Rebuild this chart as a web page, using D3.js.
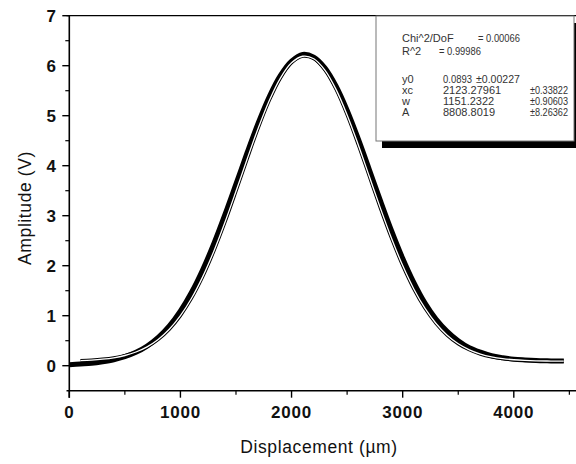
<!DOCTYPE html>
<html><head><meta charset="utf-8">
<script src="https://cdn.jsdelivr.net/npm/d3@7"></script>
<style>body{margin:0;background:#fff}svg{display:block}text{font-family:"Liberation Sans",Arial,sans-serif}</style>
</head><body>
<svg id="c" width="576" height="464"></svg>
<script>
// Measured data (Displacement in µm, Amplitude in V)
const dataX = [0,100,200,300,400,500,600,700,800,900,1000,1100,1200,1300,1400,1500,1600,1700,1800,1900,2000,2100,2200,2300,2400,2500,2600,2700,2800,2900,3000,3100,3200,3300,3400,3500,3600,3700,3800,3900,4000,4100,4200,4300,4400,4450];
const dataY = [0.02,0.035,0.05,0.08,0.12,0.18,0.267,0.392,0.565,0.796,1.096,1.469,1.919,2.44,3.02,3.636,4.26,4.856,5.384,5.806,6.091,6.225,6.169,5.956,5.593,5.109,4.54,3.924,3.3,2.7,2.15,1.667,1.258,0.935,0.69,0.5,0.36,0.27,0.2,0.16,0.13,0.115,0.104,0.098,0.094,0.093];
// Gaussian fit curve
const fitX = [100,200,300,400,500,600,700,800,900,1000,1100,1200,1300,1400,1500,1600,1700,1800,1900,2000,2100,2200,2300,2400,2500,2600,2700,2800,2900,3000,3100,3200,3300,3400,3500,3600,3700,3800,3900,4000,4100,4200,4300,4400,4450];
const fitY = [0.102,0.112,0.130,0.158,0.204,0.274,0.377,0.524,0.728,1.000,1.348,1.777,2.286,2.863,3.488,4.130,4.750,5.305,5.753,6.057,6.189,6.140,5.912,5.527,5.016,4.420,3.783,3.146,2.544,2.002,1.535,1.150,0.844,0.610,0.438,0.316,0.232,0.177,0.141,0.119,0.106,0.098,0.094,0.092,0.091];
const xTicks = [0,1000,2000,3000,4000];
const xMinor = [500,1500,2500,3500,4500];
const yTicks = [0,1,2,3,4,5,6,7];
const yMinor = [0.5,1.5,2.5,3.5,4.5,5.5,6.5];
const legendRows = [
  ["Chi^2/DoF", "= 0.00066", ""],
  ["R^2", "= 0.99986", ""],
  ["y0", "0.0893", "±0.00227"],
  ["xc", "2123.27961", "±0.33822"],
  ["w", "1151.2322", "±0.90603"],
  ["A", "8808.8019", "±8.26362"]
];

const svg = d3.select("#c");
const x = d3.scaleLinear().domain([0,4000]).range([69.3,513.8]);
const y = d3.scaleLinear().domain([0,7]).range([365.7,15.7]);
const yBottom = y(-0.5), xLeft = x(-25), xRight = 577;

// top frame line
svg.append("line").attr("x1",xLeft).attr("x2",xRight).attr("y1",y(7)).attr("y2",y(7))
  .attr("stroke","#000").attr("stroke-width",1.2);

// curves
const line = (xs,ys)=> d3.line().x((d,i)=>x(xs[i])).y((d,i)=>y(ys[i])).curve(d3.curveCatmullRom)(xs);
svg.append("path").attr("d",line(dataX,dataY)).attr("fill","none").attr("stroke","#000").attr("stroke-width",5).attr("stroke-linecap","butt");
svg.append("path").attr("d",line(fitX,fitY)).attr("fill","none").attr("stroke","#000").attr("stroke-width",3.2);
svg.append("path").attr("d",line(fitX,fitY)).attr("fill","none").attr("stroke","#fff").attr("stroke-width",1.3);

// axes
const ax = svg.append("g").attr("stroke","#000");
ax.append("line").attr("x1",xLeft).attr("x2",xRight).attr("y1",yBottom).attr("y2",yBottom).attr("stroke-width",1.6);
ax.append("line").attr("x1",x(0)).attr("x2",x(0)).attr("y1",y(7)).attr("y2",yBottom+7).attr("stroke-width",1.6);
xTicks.forEach(t=>ax.append("line").attr("x1",x(t)).attr("x2",x(t)).attr("y1",yBottom).attr("y2",yBottom+7).attr("stroke-width",1.4));
xMinor.forEach(t=>ax.append("line").attr("x1",x(t)).attr("x2",x(t)).attr("y1",yBottom).attr("y2",yBottom+4).attr("stroke-width",1.2));
yTicks.forEach(t=>ax.append("line").attr("x1",x(0)-7).attr("x2",x(0)).attr("y1",y(t)).attr("y2",y(t)).attr("stroke-width",1.4));
yMinor.forEach(t=>ax.append("line").attr("x1",x(0)-4).attr("x2",x(0)).attr("y1",y(t)).attr("y2",y(t)).attr("stroke-width",1.2));

svg.append("g").selectAll("text").data(xTicks).join("text")
  .attr("x",d=>x(d)).attr("y",418).attr("text-anchor","middle")
  .attr("font-size",17).attr("font-weight","bold").attr("letter-spacing",0.8).attr("fill","#111").text(d=>d);
svg.append("g").selectAll("text").data(yTicks).join("text")
  .attr("x",56).attr("y",d=>y(d)+6).attr("text-anchor","end")
  .attr("font-size",17).attr("font-weight","bold").attr("fill","#111").text(d=>d);

svg.append("text").attr("x",319).attr("y",453).attr("text-anchor","middle")
  .attr("font-size",17.5).attr("letter-spacing",0.6).attr("fill","#111").text("Displacement (µm)");
svg.append("text").attr("transform","translate(31,208) rotate(-90)").attr("text-anchor","middle")
  .attr("font-size",17.5).attr("letter-spacing",0.6).attr("fill","#111").text("Amplitude (V)");

// legend box
svg.append("rect").attr("x",382).attr("y",23).attr("width",220).attr("height",125).attr("fill","#000");
svg.append("rect").attr("x",376).attr("y",16).attr("width",198).attr("height",125)
  .attr("fill","#fff").attr("stroke","#777").attr("stroke-width",1);
const lg = svg.append("g").attr("font-size",11).attr("fill","#333");
const rowY = [41.5,54.5,82.5,93.5,104.5,115.5];
const fitLen = (sel,len)=> sel.attr("textLength",len).attr("lengthAdjust","spacingAndGlyphs");
legendRows.forEach((r,i)=>{
  lg.append("text").attr("x",402).attr("y",rowY[i]).text(r[0]);
  const vx = i===0 ? 478 : (i===1 ? 439 : 443);
  const v = lg.append("text").attr("x",vx).attr("y",rowY[i]).text(r[1]);
  if (i<2) fitLen(v,42);
  if (i===2) fitLen(v,29);
  if (r[2]) {
    const e = lg.append("text").attr("x", i===2 ? 476 : 530).attr("y",rowY[i]).text(r[2]);
    fitLen(e, i===2 ? 44 : 38);
  }
});
</script>
</body></html>
